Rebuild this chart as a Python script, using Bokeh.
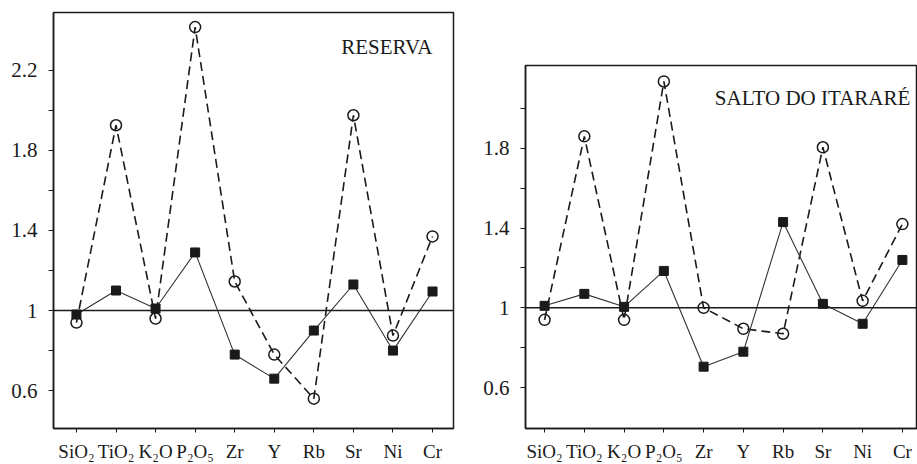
from bokeh.plotting import figure
from bokeh.layouts import row, column
from bokeh.models import Range1d, FixedTicker, Span, Label, Spacer
from bokeh.embed import file_html
from bokeh.resources import INLINE

# ---- data ----
elements = ["SiO₂", "TiO₂", "K₂O", "P₂O₅", "Zr", "Y", "Rb", "Sr", "Ni", "Cr"]

reserva_squares = [0.98, 1.10, 1.01, 1.29, 0.78, 0.66, 0.90, 1.13, 0.80, 1.095]
reserva_circles = [0.94, 1.925, 0.96, 2.415, 1.145, 0.78, 0.56, 1.975, 0.875, 1.37]

salto_squares = [1.01, 1.07, 1.005, 1.185, 0.705, 0.78, 1.43, 1.02, 0.92, 1.24]
salto_circles = [0.94, 1.86, 0.94, 2.135, 1.00, 0.895, 0.87, 1.805, 1.035, 1.42]

reserva_yticks = [0.6, 1.0, 1.4, 1.8, 2.2]
salto_yticks = [0.6, 1.0, 1.4, 1.8]
yminor = [0.8, 1.2, 1.6, 2.0]
ytick_labels = {0.6: "0.6", 1.0: "1", 1.4: "1.4", 1.8: "1.8", 2.2: "2.2"}

FONT = "Liberation Serif"
INK = "#1a1a1a"


def panel(title, squares, circles, yticks, width, height, xr, yr, borders, label_pos):
    bl, br, bt, bb = borders
    p = figure(width=width, height=height, output_backend="svg", toolbar_location=None,
               x_range=Range1d(*xr), y_range=Range1d(*yr),
               min_border_left=bl, min_border_right=br, min_border_top=bt,
               min_border_bottom=bb)
    p.grid.visible = False
    p.background_fill_color = "white"
    p.border_fill_color = "white"
    p.outline_line_color = INK
    p.outline_line_width = 1.5

    xs = list(range(len(elements)))

    # y axis
    ya = p.yaxis[0]
    ya.ticker = FixedTicker(ticks=yticks, minor_ticks=yminor)
    ya.major_label_overrides = {t: ytick_labels[t] for t in yticks}
    ya.major_tick_in = 0
    ya.major_tick_out = 5
    ya.minor_tick_in = 0
    ya.minor_tick_out = 5
    ya.major_tick_line_color = INK
    ya.minor_tick_line_color = INK
    ya.axis_line_color = INK
    ya.axis_line_width = 1.5
    ya.major_label_text_font = FONT
    ya.major_label_text_font_size = "21px"
    ya.major_label_text_color = INK
    ya.major_label_standoff = 11

    # x axis
    xa = p.xaxis[0]
    xa.ticker = FixedTicker(ticks=xs)
    xa.major_label_overrides = {i: e for i, e in zip(xs, elements)}
    xa.major_tick_in = 0
    xa.major_tick_out = 4
    xa.minor_tick_line_color = None
    xa.major_tick_line_color = INK
    xa.axis_line_color = INK
    xa.axis_line_width = 1.5
    xa.major_label_text_font = FONT
    xa.major_label_text_font_size = "19px"
    xa.major_label_text_color = INK
    xa.major_label_standoff = 8

    p.add_layout(Span(location=1, dimension="width", line_color=INK, line_width=1.5))

    p.line(xs, circles, line_color=INK, line_width=1.6, line_dash="9 5")
    p.scatter(xs, circles, marker="circle", size=11, fill_alpha=0,
              line_color=INK, line_width=1.5)
    p.line(xs, squares, line_color="#333333", line_width=1.1)
    p.scatter(xs, squares, marker="square", size=9, fill_color=INK, line_color=INK)

    lx, ly = label_pos
    p.add_layout(Label(x=lx, y=ly, text=title, text_font=FONT, text_font_size="21px",
                       text_color=INK, text_align="right", text_baseline="alphabetic"))
    return p


left = panel("RESERVA", reserva_squares, reserva_circles, reserva_yticks,
             460, 464, (-0.58, 9.53), (0.411, 2.488), (53, 7, 12, 34), (9.0, 2.315))
right = panel("SALTO DO ITARARÉ", salto_squares, salto_circles, salto_yticks,
              457, 411, (-0.48, 9.38), (0.395, 2.215), (65, 0, 12, 35), (9.2, 2.05))

layout = row(left, column(Spacer(width=457, height=53), right))
open("out.html", "w").write(file_html(layout, INLINE))
